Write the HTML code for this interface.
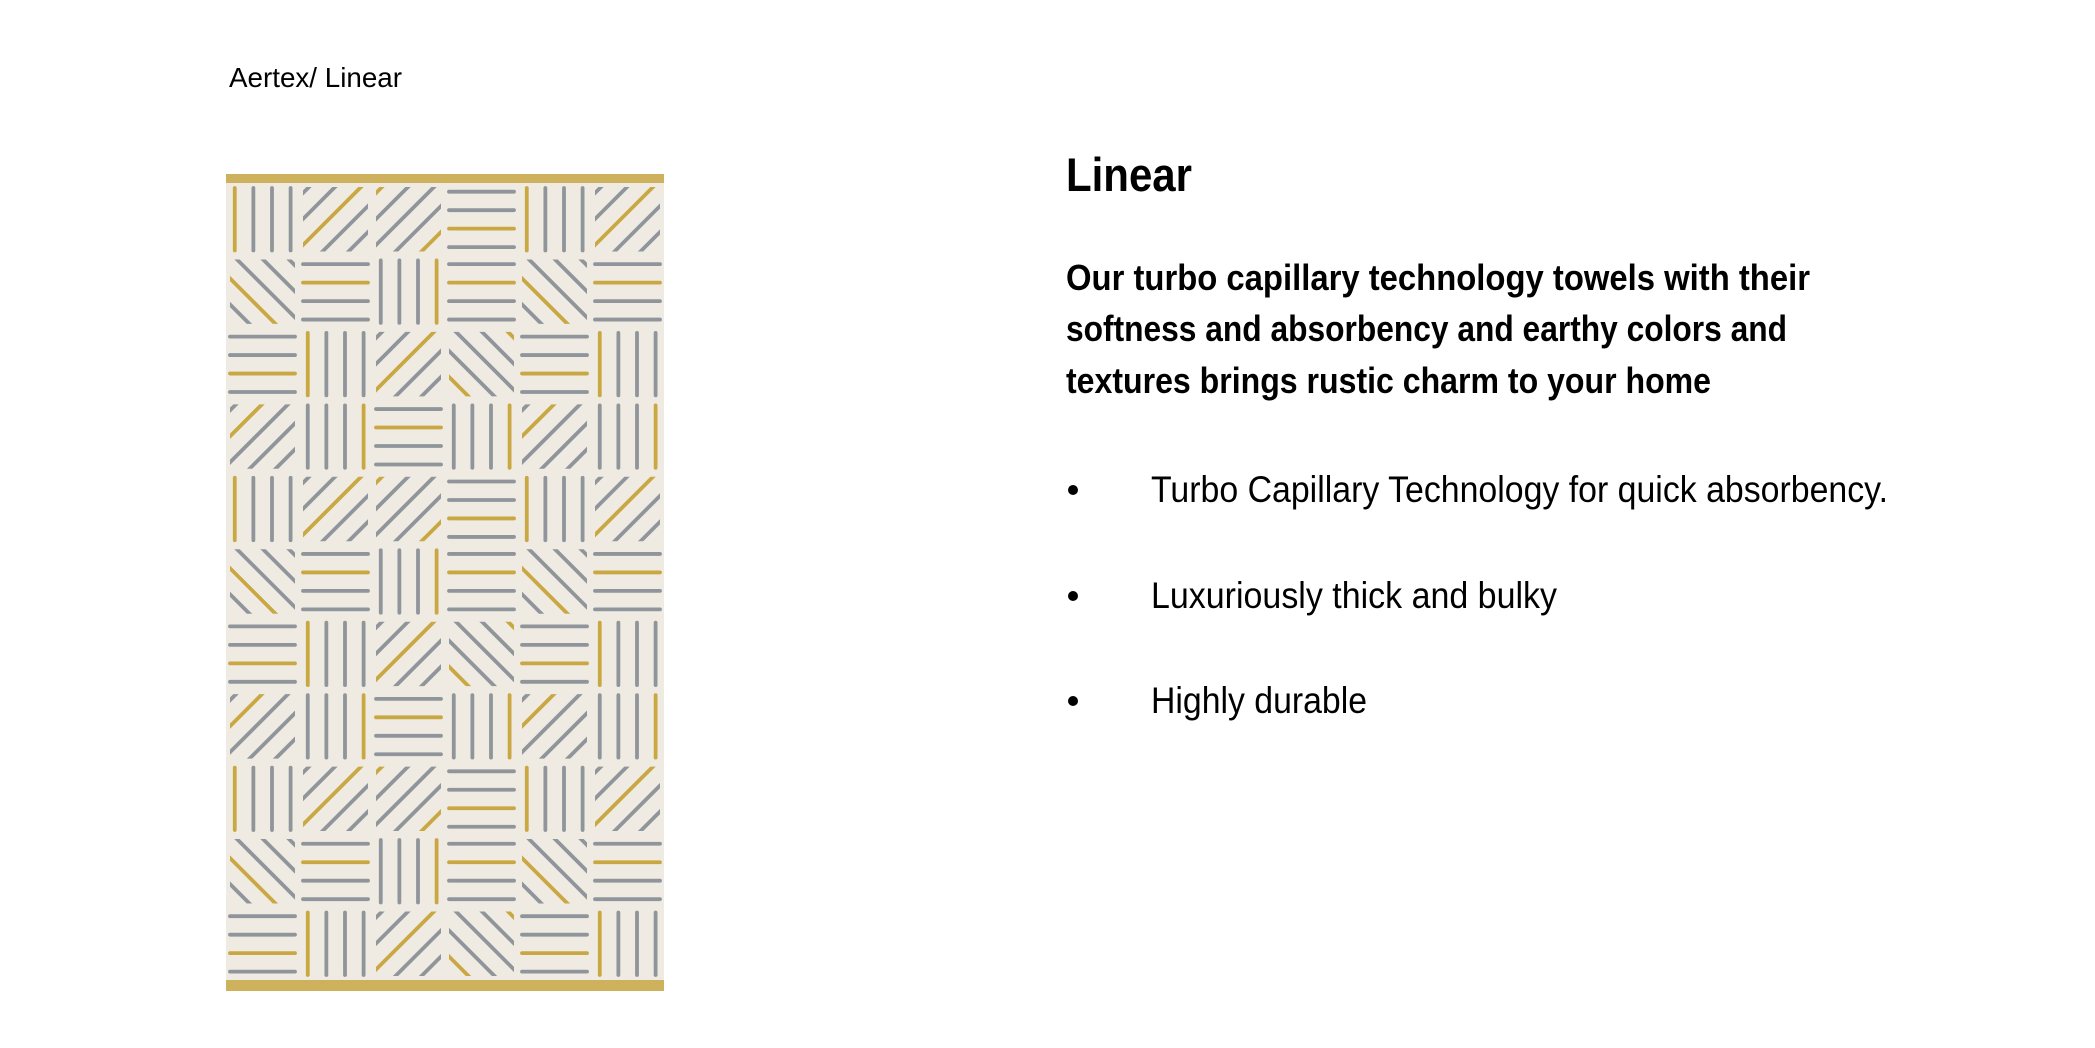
<!DOCTYPE html>
<html><head><meta charset="utf-8"><style>
html,body{margin:0;padding:0;background:#fff;}
svg{display:block;}
text{font-family:"Liberation Sans",sans-serif;fill:#000;}
</style></head>
<body>
<svg id="page" width="2095" height="1048" viewBox="0 0 2095 1048" xmlns="http://www.w3.org/2000/svg">
<text x="229" y="87" font-size="28" textLength="173" lengthAdjust="spacingAndGlyphs">Aertex/ Linear</text>
<g id="towel">
  <rect x="226" y="174" width="438" height="817" fill="#efebe2"/>
  <rect x="226" y="174" width="438" height="9" fill="#cdb15c"/>
  <rect x="226" y="980" width="438" height="11" fill="#cdb15c"/>
</g>
<text x="1066" y="191" font-size="47" font-weight="bold" textLength="126" lengthAdjust="spacingAndGlyphs">Linear</text>
<g font-weight="bold" font-size="36">
<text x="1066" y="290" textLength="744" lengthAdjust="spacingAndGlyphs">Our turbo capillary technology towels with their</text>
<text x="1066" y="341" textLength="721" lengthAdjust="spacingAndGlyphs">softness and absorbency and earthy colors and</text>
<text x="1066" y="393" textLength="645" lengthAdjust="spacingAndGlyphs">textures brings rustic charm to your home</text>
</g>
<g font-size="37">
<circle cx="1073" cy="490" r="5" fill="#000"/>
<text x="1151" y="502" textLength="737" lengthAdjust="spacingAndGlyphs">Turbo Capillary Technology for quick absorbency.</text>
<circle cx="1073" cy="596" r="5" fill="#000"/>
<text x="1151" y="608" textLength="406" lengthAdjust="spacingAndGlyphs">Luxuriously thick and bulky</text>
<circle cx="1073" cy="701" r="5" fill="#000"/>
<text x="1151" y="713" textLength="216" lengthAdjust="spacingAndGlyphs">Highly durable</text>
</g>
</svg>
<script>
const rowTypes = [
  ["V","/","/","H","V","/"],
  ["\\","H","V","H","\\","H"],
  ["H","V","/","\\","H","V"],
  ["/","V","H","V","/","V"]
];
const NS="http://www.w3.org/2000/svg";
const towel=document.getElementById('towel');
const X0=226, Y0=183, CW=73, CH=72.45, COLS=6, ROWS=11;
const GRAY="#8f959a", GOLD="#c9a743";
const defs=document.createElementNS(NS,'defs');
towel.appendChild(defs);
function line(g,x1,y1,x2,y2,c){
  const l=document.createElementNS(NS,'line');
  l.setAttribute('x1',x1);l.setAttribute('y1',y1);l.setAttribute('x2',x2);l.setAttribute('y2',y2);
  l.setAttribute('stroke',c);l.setAttribute('stroke-width','3.8');l.setAttribute('stroke-linecap','round');
  
  
  g.appendChild(l);
}
for(let r=0;r<ROWS;r++){
  for(let c=0;c<COLS;c++){
    const t=rowTypes[r%4][c];
    const x=X0+c*CW, y=Y0+r*CH;
    const g=document.createElementNS(NS,'g');
    
    
    const gold=(r*3+c*2)%4;
    if(t==="V"){
      for(let i=0;i<4;i++){
        const lx=x+CW*(0.12+i*0.255);
        line(g,lx,y+5,lx,y+CH-5,i===gold?GOLD:GRAY);
      }
    } else if(t==="H"){
      for(let i=0;i<4;i++){
        const ly=y+CH*(0.12+i*0.255);
        line(g,x+4,ly,x+CW-4,ly,i===gold?GOLD:GRAY);
      }
    } else {
      const id='clip'+r+'_'+c;
      const cp=document.createElementNS(NS,'clipPath');
      cp.setAttribute('id',id);
      const cr=document.createElementNS(NS,'rect');
      cr.setAttribute('x',x+4);cr.setAttribute('y',y+4);cr.setAttribute('width',CW-8);cr.setAttribute('height',CH-8);
      cp.appendChild(cr);defs.appendChild(cp);
      g.setAttribute('clip-path','url(#'+id+')');
      const sp=26;
      for(let i=0;i<6;i++){
        const k=i*sp+14;
        const col=(i%4===gold)?GOLD:GRAY;
        if(t==="/"){ line(g,x+k-CH,y+CH,x+k,y,col); }
        else { line(g,x+CW-k+CH,y+CH,x+CW-k,y,col); }
      }
    }
    towel.appendChild(g);
  }
}
</script>
</body></html>
